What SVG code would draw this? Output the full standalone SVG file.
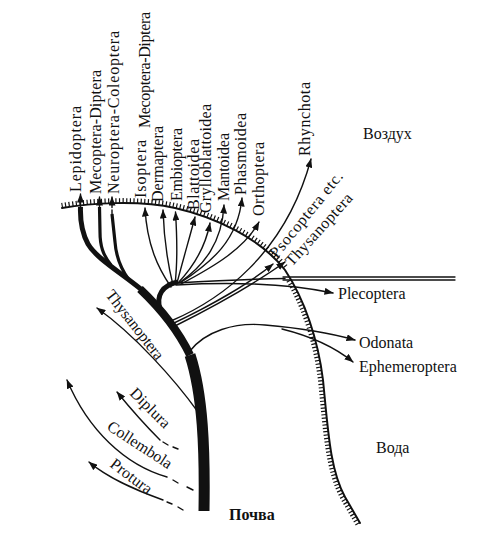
<svg xmlns="http://www.w3.org/2000/svg" width="504" height="537" viewBox="0 0 504 537">
<defs>
<style>
.t{font-family:"Liberation Serif","Times New Roman",serif;font-size:16px;fill:#111}
.c{fill:none;stroke:#111;stroke-width:1.4;stroke-linecap:round}
.a{marker-end:url(#ah)}
.th{fill:none;stroke:#111;stroke-linecap:butt;stroke-linejoin:round}
.hatch{fill:none;stroke:#111;stroke-width:5}
</style>
<marker id="ah" viewBox="0 0 9 7" refX="8.5" refY="3.5" markerWidth="9" markerHeight="7" orient="auto" markerUnits="userSpaceOnUse">
<path d="M0,0 L9,3.5 L0,7 z" fill="#111"/>
</marker>
</defs>
<rect width="504" height="537" fill="#fff"/>

<g id="terrain">
<path class="c" style="stroke-width:2" d="M62,208 C90,203 140,200 175,208 C215,217 260,238 285,270 C305,300 318,340 323,380 C328,430 330,470 345,497 L360,523"/>
<path class="hatch" stroke-dasharray="1.2 2.4" d="M61.6,205.5 C89.6,200.5 140.6,197.6 175.6,205.6 C215.6,214.6 262,236.5 287,268.5"/>
<path class="hatch" stroke-dasharray="1.2 2.2" d="M288.6,280.5 C305.3,309.3 316,344.3 320.5,380.3 C325.5,430.3 327.6,470.3 342.8,498.2 L357.8,524.2"/>
<path class="c" style="stroke-width:1.3" d="M283,277 H455 M283,280 H455"/>
</g>

<g id="connectors">
<path class="th" stroke-width="11" d="M204,511 C205,450 203,395 190,355"/>
<path class="th" stroke-width="8" stroke-linecap="round" d="M190,355 C178,330 160,308 140,289"/>
<path class="th" stroke-width="5" d="M160,309 C156,296 162,285 178,282"/>
<path class="th" stroke-width="5" d="M142,290 C120,272 96,258 88,244 C82,233 80,222 80.5,207"/>
<path class="th" stroke-width="3.2" d="M111,265 C103,255 100,246 100,232 L99.5,207"/>
<path class="th" stroke-width="3.2" d="M129,280 C121,269 116,256 115,242 L112,214"/>
<path class="c a" d="M80.5,208 L80.5,194"/>
<path class="c a" d="M99.5,208 L99.5,197"/>
<path class="c a" stroke-dasharray="4 2.5" d="M112,214 L112,197"/>

<path class="c a" d="M171,287 C158,268 147,245 145,208"/>
<path class="c a" d="M173,285 C168,265 164,240 163,210"/>
<path class="c a" d="M175,284 C178,260 177,236 175.5,212"/>
<path class="c a" d="M177,283 C183,260 190,236 195,217"/>
<path class="c a" d="M178,283 C195,265 206,244 210,223"/>
<path class="c a" d="M179,283 C205,265 222,242 224,205"/>
<path class="c a" d="M180,283 C212,262 238,240 242,198"/>
<path class="c a" d="M181,284 C215,266 245,248 259,222"/>

<path class="c" d="M176,283 C210,281 250,279 285,278.5"/>
<path class="c a" d="M176,285 C230,282 285,283 333,293"/>
<path class="c a" d="M171,321 C220,300 285,255 311,159"/>
<path class="c a" d="M172,324 C210,306 250,283 273,264"/>
<path class="c a" d="M173,327 C215,306 260,280 285,262"/>
<path class="c a" d="M189,352 C205,331 235,322 265,325 C300,328 330,333 355,340"/>
<path class="c a" d="M282,329 C310,336 336,348 353,362"/>

<path class="c a" d="M198,412 C175,380 135,335 97,308"/>
<path class="c a" d="M160,440 C148,428 130,408 117,392"/>
<path class="c" d="M163,442 L168,445 M173,447 L178,449"/>
<path class="c a" d="M167,477 C125,465 88,430 67,380"/>
<path class="c" d="M173,480 L178,483 M187,487 L193,490"/>
<path class="c a" d="M163,500 C140,492 108,478 89,462"/>
<path class="c" d="M167,502 L172,504 M178,507 L183,510"/>
</g>

<g id="lepidoptera"><text class="t" transform="translate(81,192) rotate(-90)" textLength="86">Lepidoptera</text></g>
<g id="mecoptera-diptera-1"><text class="t" transform="translate(101,194) rotate(-90)" textLength="124">Mecoptera-Diptera</text></g>
<g id="neuroptera-coleoptera"><text class="t" transform="translate(119,194) rotate(-90)" textLength="163">Neuroptera-Coleoptera</text></g>
<g id="isoptera"><text class="t" transform="translate(145.5,198) rotate(-90)" textLength="58">Isoptera</text></g>
<g id="mecoptera-diptera-2"><text class="t" transform="translate(149.5,128) rotate(-90)" textLength="116">Mecoptera-Diptera</text></g>
<g id="dermaptera"><text class="t" transform="translate(162.5,202) rotate(-90)" textLength="76">Dermaptera</text></g>
<g id="embioptera"><text class="t" transform="translate(182,201) rotate(-90)" textLength="73">Embioptera</text></g>
<g id="blattoidea"><text class="t" transform="translate(199,210) rotate(-90)" textLength="71">Blattoidea</text></g>
<g id="grylloblattoidea"><text class="t" transform="translate(210.5,213) rotate(-90)" textLength="109">Grylloblattoidea</text></g>
<g id="mantoidea"><text class="t" transform="translate(229,201) rotate(-90)" textLength="68">Mantoidea</text></g>
<g id="phasmoidea"><text class="t" transform="translate(246,195) rotate(-90)" textLength="82">Phasmoidea</text></g>
<g id="orthoptera"><text class="t" transform="translate(264,216) rotate(-90)" textLength="74">Orthoptera</text></g>
<g id="rhynchota"><text class="t" transform="translate(310,156) rotate(-90)" textLength="74">Rhynchota</text></g>
<g id="psocoptera"><text class="t" transform="translate(277,259) rotate(-51)" textLength="106">Psocoptera etc.</text></g>
<g id="thysanoptera-air"><text class="t" transform="translate(292,267) rotate(-48)" textLength="92">Thysanoptera</text></g>
<g id="plecoptera"><text class="t" x="338" y="299">Plecoptera</text></g>
<g id="odonata"><text class="t" x="359" y="348">Odonata</text></g>
<g id="ephemeroptera"><text class="t" x="359" y="372">Ephemeroptera</text></g>
<g id="thysanoptera-soil"><text class="t" transform="translate(105,295) rotate(52)" textLength="84">Thysanoptera</text></g>
<g id="diplura"><text class="t" transform="translate(129,394) rotate(45)" textLength="50">Diplura</text></g>
<g id="collembola"><text class="t" transform="translate(106,429) rotate(33)" textLength="74">Collembola</text></g>
<g id="protura"><text class="t" transform="translate(109,466) rotate(37)" textLength="48">Protura</text></g>
<g id="air"><text class="t" x="363" y="139">Воздух</text></g>
<g id="water"><text class="t" x="376" y="453">Вода</text></g>
<g id="soil"><text class="t" x="229" y="520" font-weight="bold">Почва</text></g>
</svg>
